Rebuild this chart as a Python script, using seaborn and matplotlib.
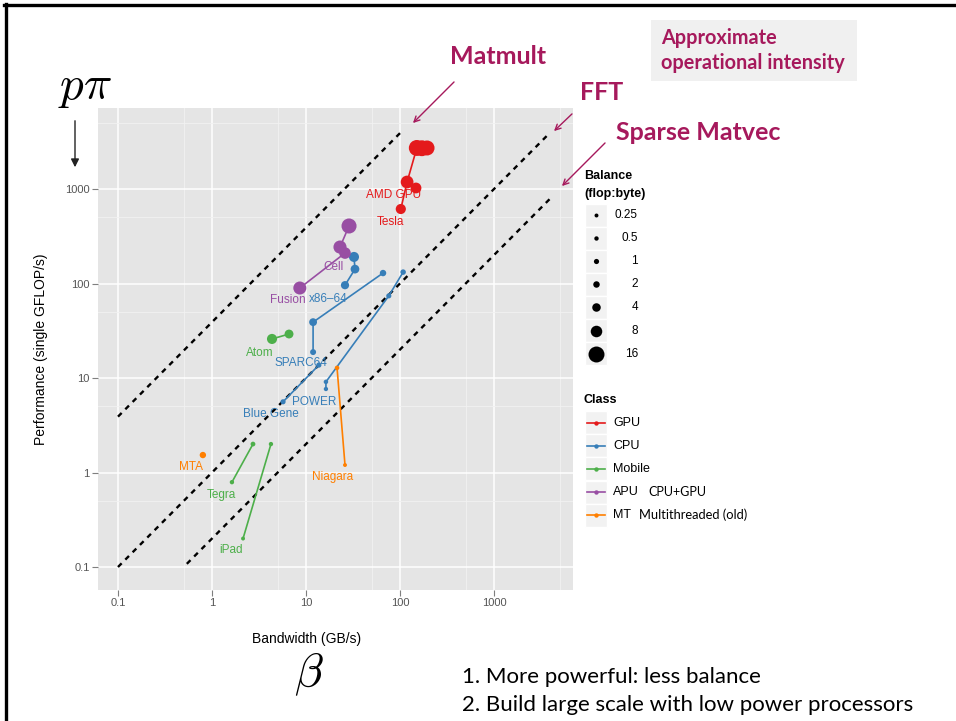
import numpy as np
import pandas as pd
import matplotlib
matplotlib.use("Agg")
import matplotlib.pyplot as plt
import matplotlib.colors as mcolors
from matplotlib.patches import Rectangle
import seaborn as sns

# machines: bandwidth (GB/s) vs peak single precision GFLOP/s
bandwidth = [194, 171, 151, 119, 102, 148,
             26.0, 33.2, 32.4, 11.9, 11.9, 66, 16.3, 16.3, 76, 108, 5.7, 13.7,
             4.35, 6.6, 1.63, 2.73, 2.14, 4.24,
             8.6, 26, 23, 28.7,
             0.80, 21.4, 26]
gflops = [2717, 2700, 2717, 1186, 614, 1025,
          96, 142, 191, 18.8, 39, 129, 7.65, 9.1, 74, 132, 5.6, 13.7,
          25.9, 29.2, 0.79, 2.0, 0.20, 2.0,
          89.6, 210, 243, 406,
          1.53, 12.8, 1.2]
classes = ['GPU'] * 6 + ['CPU'] * 12 + ['Mobile'] * 6 + ['APU'] * 4 + ['MT'] * 3
groups = (['amd'] * 5 + ['gpu2'] + ['x86'] * 3 + ['sparc'] * 3 + ['power'] * 4 + ['bg'] * 2
          + ['atom'] * 2 + ['tegra'] * 2 + ['ipad'] * 2 + ['cell'] * 4 + ['mta'] + ['niagara'] * 2)

class_order = ['GPU', 'CPU', 'Mobile', 'APU', 'MT']
class_colors = ['#e41a1c', '#377eb8', '#4daf4a', '#984ea3', '#ff7f00']

# point labels
label_text = ['AMD GPU', 'Tesla', 'Cell', 'Fusion', 'x86\u201364', 'Atom', 'SPARC64',
              'POWER', 'Blue Gene', 'MTA', 'Niagara', 'Tegra', 'iPad']
label_x = [86.3, 78.3, 19.4, 6.44, 17.1, 3.24, 8.85, 12.2, 4.24, 0.60, 19.4, 1.25, 1.59]
label_y = [865, 448, 150, 66.9, 68.5, 18.4, 14.4, 5.57, 4.16, 1.14, 0.90, 0.58, 0.151]
label_cls = ['GPU', 'GPU', 'APU', 'APU', 'CPU', 'Mobile', 'CPU', 'CPU', 'CPU', 'MT', 'MT',
             'Mobile', 'Mobile']

# operational intensity lines (flop:byte) and their x extent
kernels = ['Matmult', 'FFT', 'Sparse Matvec']
intensity = [39, 1, 0.2]
kernel_x0 = [0.1, 0.1, 0.54]
kernel_x1 = [100, 3700, 4100]

ticks = [0.1, 1, 10, 100, 1000]
tick_labels = ['0.1', '1', '10', '100', '1000']
balance_breaks = [0.25, 0.5, 1, 2, 4, 8, 16]

df = pd.DataFrame({'bw': bandwidth, 'perf': gflops, 'cls': classes, 'grp': groups})
df['balance'] = df['perf'] / df['bw']

rows = []
for k, b, x0, x1 in zip(kernels, intensity, kernel_x0, kernel_x1):
    rows.append({'kernel': k, 'bw': x0, 'perf': b * x0})
    rows.append({'kernel': k, 'bw': x1, 'perf': b * x1})
roof = pd.DataFrame(rows)

pal = dict(zip(class_order, class_colors))
mag = '#a6195c'
size_range = (8, 132)
size_norm = mcolors.Normalize(0.25, 16, clip=True)
plt.rcParams['font.family'] = ['Liberation Sans', 'DejaVu Sans']
plt.rcParams['mathtext.fontset'] = 'cm'

fig = plt.figure(figsize=(9.56, 7.21), dpi=100)
ax = fig.add_axes([98 / 956, 1 - 590 / 721, 475 / 956, 482 / 721])
ax.set_xscale('log')
ax.set_yscale('log')
ax.set_facecolor('#e5e5e5')

sns.lineplot(data=roof, x='bw', y='perf', units='kernel', estimator=None, sort=False,
             color='black', lw=1.7, linestyle=(0, (2.2, 2.2)), legend=False, ax=ax, zorder=2)
sns.lineplot(data=df, x='bw', y='perf', hue='cls', units='grp', estimator=None, sort=False,
             hue_order=class_order, palette=pal, lw=1.2, legend=False, ax=ax, zorder=3)
sns.scatterplot(data=df, x='bw', y='perf', hue='cls', size='balance', sizes=size_range,
                size_norm=size_norm, hue_order=class_order, palette=pal, linewidth=0,
                legend=False, ax=ax, zorder=4)

for t, x, y, c in zip(label_text, label_x, label_y, label_cls):
    ax.text(x, y, t, color=pal[c], fontsize=8.5, ha='center', va='center', zorder=5)

ax.set_xticks(ticks)
ax.set_xticklabels(tick_labels)
ax.set_yticks(ticks)
ax.set_yticklabels(tick_labels)
minor = [0.5, 5, 50, 500, 5000]
ax.set_xticks(minor, minor=True)
ax.set_yticks(minor, minor=True)
ax.xaxis.set_minor_formatter(plt.NullFormatter())
ax.yaxis.set_minor_formatter(plt.NullFormatter())
ax.set_xlim(0.0613, 6925)
ax.set_ylim(0.0571, 7197)
ax.tick_params(which='major', length=4, width=0.8, color='#7f7f7f', labelsize=8,
               labelcolor='#555555', pad=2)
ax.tick_params(which='minor', length=0)
ax.grid(which='major', color='white', lw=1.1)
ax.grid(which='minor', color='#f2f2f2', lw=0.6)
ax.set_axisbelow(True)
for s in ax.spines.values():
    s.set_visible(False)

ax.set_xlabel('Bandwidth (GB/s)', fontsize=10)
ax.set_ylabel('Performance (single GFLOP/s)', fontsize=10)
ax.xaxis.set_label_coords((307 - 98) / 475, -(632 - 590) / 482)
ax.yaxis.set_label_coords(-(98 - 48) / 475, 0.5)

# slide decorations in pixel coordinates
ov = fig.add_axes([0, 0, 1, 1], facecolor='none')
ov.set_xlim(0, 956)
ov.set_ylim(721, 0)
ov.axis('off')
ov.plot([6, 6], [4, 721], color='black', lw=2.4)
ov.plot([4, 956], [5, 5], color='black', lw=2.4)

ov.text(85, 88, r'$p\pi$', fontsize=34, ha='center', va='center')
ov.annotate('', xy=(75, 170), xytext=(75, 118),
            arrowprops=dict(arrowstyle='-|>', color='#222222', lw=1.0, mutation_scale=12))
ov.text(309, 674, r'$\beta$', fontsize=34, ha='center', va='center')

ov.add_patch(Rectangle((651, 20), 206, 61, fc='#f0f0f0', ec='none'))
ov.text(661, 38, 'Approximate', color=mag, fontsize=14.3, fontweight='bold', family='Lato',
        va='center')
ov.text(661, 63, 'operational intensity', color=mag, fontsize=14.3, fontweight='bold',
        family='Lato', va='center')
ov.text(498, 57, 'Matmult', color=mag, fontsize=18, fontweight='bold', family='Lato',
        ha='center', va='center')
ov.text(602, 92, 'FFT', color=mag, fontsize=18, fontweight='bold', family='Lato',
        ha='center', va='center')
ov.text(616, 132, 'Sparse Matvec', color=mag, fontsize=18, fontweight='bold', family='Lato',
        va='center')
arrow_kw = dict(arrowstyle='->', color=mag, lw=1.0, mutation_scale=10)
ov.annotate('', xy=(411, 125), xytext=(456, 80), arrowprops=arrow_kw)
ov.annotate('', xy=(552, 133), xytext=(574, 112), arrowprops=arrow_kw)
ov.annotate('', xy=(560, 188), xytext=(607, 141), arrowprops=arrow_kw)

ov.text(462, 677, '1. More powerful: less balance', fontsize=16, family='Lato', va='center')
ov.text(462, 705, '2. Build large scale with low power processors', fontsize=16,
        family='Lato', va='center')

# legends drawn by hand, ggplot style
ov.text(584, 176, 'Balance', fontsize=9, fontweight='bold', va='center')
ov.text(584, 194, '(flop:byte)', fontsize=9, fontweight='bold', va='center')
for i, b in enumerate(balance_breaks):
    yc = 215 + 23.1 * i
    ov.add_patch(Rectangle((585, yc - 11.5), 22, 23, fc='#f2f2f2', ec='white', lw=1))
    s = size_range[0] + size_norm(b) * (size_range[1] - size_range[0])
    ov.scatter([596], [yc], s=s, color='black', lw=0)
    ov.text(638, yc, f'{b:g}', fontsize=8.5, ha='right', va='center')

ov.text(584, 400, 'Class', fontsize=9, fontweight='bold', va='center')
for i, (c, col) in enumerate(zip(class_order, class_colors)):
    yc = 422.5 + 23.2 * i
    ov.add_patch(Rectangle((585, yc - 11.5), 22, 23, fc='#f2f2f2', ec='white', lw=1))
    ov.plot([587, 605], [yc, yc], color=col, lw=1.2)
    ov.scatter([596], [yc], s=10, color=col, lw=0)
    ov.text(613, yc, c, fontsize=9, va='center')
ov.text(648, 492, 'CPU+GPU', fontsize=9, family='Lato', va='center')
ov.text(639, 515, 'Multithreaded (old)', fontsize=9.3, family='Lato', va='center')

fig.savefig('out.png', dpi=100)
